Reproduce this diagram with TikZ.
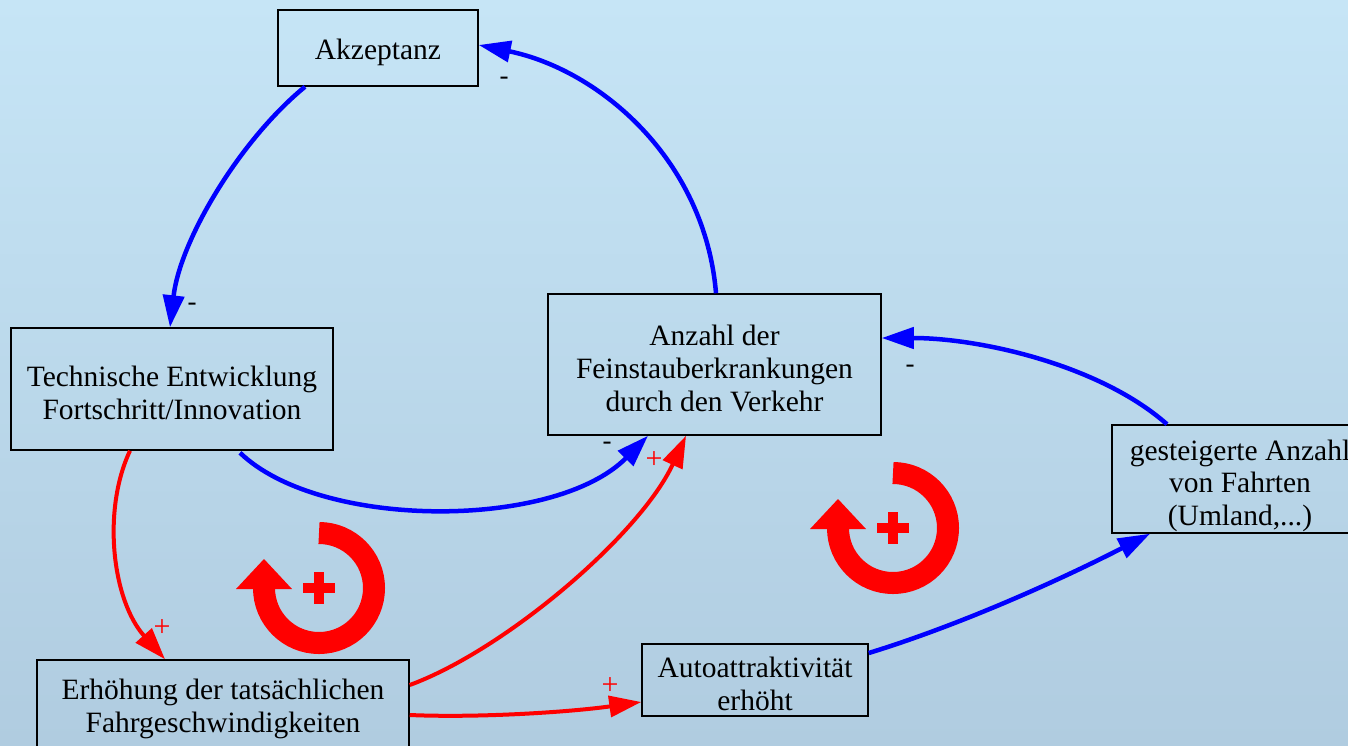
\documentclass[tikz,border=0pt]{standalone}
\usepackage{fontspec}
\setmainfont{Liberation Serif}
\usetikzlibrary{arrows.meta,calc}
\definecolor{bgtop}{RGB}{198,229,246}
\definecolor{bgbot}{RGB}{176,204,224}
\definecolor{myblue}{RGB}{0,0,255}
\definecolor{myred}{RGB}{255,0,0}
\newcommand\mystrut[1]{\rule{0pt}{#1}}
\tikzset{
  box/.style={draw=black, line width=1.5pt, inner sep=0pt, align=center,
    font=\fontsize{29.5}{32.8}\selectfont},
  bluearr/.style={draw=myblue, line width=4.5pt, -{Triangle[length=32pt,width=21pt]}},
  redarr/.style={draw=myred, line width=4pt, -{Triangle[length=32pt,width=21pt]}},
  minus/.style={font=\fontsize{27}{30}\selectfont, text=black, inner sep=0pt},
  plus/.style={font=\fontsize{30}{30}\selectfont, text=myred, inner sep=0pt},
  loopsym/.pic={
    \draw[myred, line width=22] (0,-55) arc[start angle=270, end angle=540, radius=55];
    \fill[myred] (-83,1) -- (-27,1) -- (-55,-29) -- cycle;
    \fill[myred] (-16,-5) rectangle (16,5);
    \fill[myred] (-5,-16) rectangle (5,16);
  }
}
\begin{document}
\begin{tikzpicture}[x=1pt,y=-1pt]
\fill[top color=bgtop,bottom color=bgbot] (0,0) rectangle (1348,745);
\useasboundingbox (0,0) rectangle (1348,745);

\node[box, minimum width=200, minimum height=76] (akz) at (378,48) {\mystrut{30pt}Akzeptanz};
\node[box, minimum width=322, minimum height=122] (tech) at (172,389) {\mystrut{28pt}Technische Entwicklung\\Fortschritt/Innovation};
\node[box, minimum width=333, minimum height=141] (anz) at (714.5,364.5) {\mystrut{28pt}Anzahl der\\Feinstauberkrankungen\\durch den Verkehr};
\node[box, minimum width=256, minimum height=108] (gest) at (1240,479) {\mystrut{34pt}gesteigerte Anzahl\\von Fahrten\\(Umland,...)};
\node[box, minimum width=372, minimum height=92] (erh) at (223,706) {\mystrut{26pt}Erhöhung der tatsächlichen\\Fahrgeschwindigkeiten};
\node[box, minimum width=226, minimum height=72] (auto) at (755,680) {\mystrut{28pt}Autoattraktivität\\erhöht};

% blue connectors
\draw[bluearr] ($(akz.south)+(-73,0)$) .. controls (240,140) and (180,240) .. ($(tech.north)+(-2,0)$);
\draw[bluearr] ($(anz.north)+(1.5,0)$) .. controls (705,160) and (600,70) .. ($(akz.east)+(0,-3)$);
\draw[bluearr] ($(tech.south)+(68,2)$) .. controls (320,530) and (555,530) .. ($(anz.south)+(-66.5,0)$);
\draw[bluearr] ($(gest.north)+(-73,0)$) .. controls (1100,365) and (980,338) .. ($(anz.east)+(0,-26.5)$);
\draw[bluearr] ($(auto.east)+(0,-27)$) .. controls (960,625) and (1060,580) .. ($(gest.south)+(-90,0)$);

% red connectors
\draw[redarr] ($(tech.south)+(-42,0)$) .. controls (102,510) and (112,600) .. ($(erh.north)+(-58,0)$);
\draw[redarr] ($(erh.east)+(0,-21)$) .. controls (505,650) and (640,535) .. ($(anz.south)+(-28.5,0)$);
\draw[redarr] ($(erh.east)+(0,9)$) .. controls (480,718) and (570,712) .. ($(auto.west)+(0,22)$);

% polarity labels
\node[minus] (m1) at (192,307) {-};
\node[minus] (m2) at (504,81) {-};
\node[minus] (m3) at (607,446) {-};
\node[minus] (m4) at (910,369) {-};
\node[plus] (p1) at (162,628) {+};
\node[plus] (p2) at (654,460) {+};
\node[plus] (p3) at (610,686) {+};

% loop symbols
\pic at (319,588) {loopsym};
\pic at (893,528) {loopsym};
\end{tikzpicture}
\end{document}
